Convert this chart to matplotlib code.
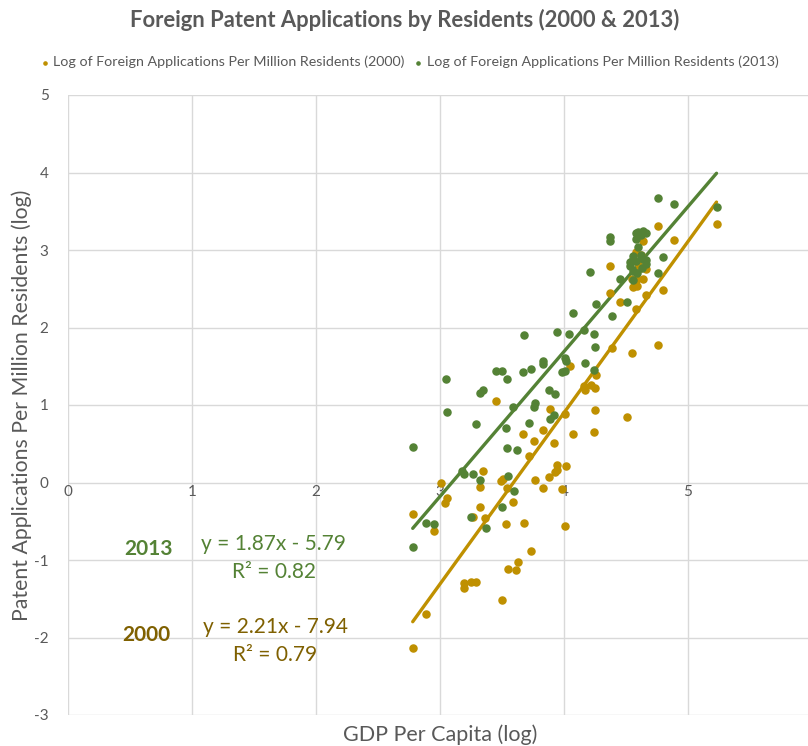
import matplotlib.pyplot as plt
import numpy as np

plt.rcParams['font.family'] = ['Lato', 'DejaVu Sans']
plt.rcParams['axes.unicode_minus'] = False

# Log GDP per capita / log foreign applications per million residents, 2013
x_2013 = [2.78, 2.78, 2.89, 2.95, 3.05, 3.06, 3.18, 3.19, 3.25, 3.27,
          3.29, 3.32, 3.35, 3.32, 3.37, 3.45, 3.50, 3.54, 3.59, 3.53,
          3.54, 3.62, 3.55, 3.60, 3.50, 3.67, 3.73, 3.83, 3.83, 4.01,
          4.02, 3.98, 4.01, 3.88, 3.93, 3.76, 3.77, 3.72, 3.89, 3.92,
          4.26, 4.51, 4.07, 4.39, 3.68, 3.94, 4.04, 4.16, 4.24, 4.25,
          4.17, 4.24, 4.76, 4.89, 4.37, 4.37, 4.58, 4.60, 4.64, 4.66,
          4.62, 4.58, 4.60, 4.56, 4.55, 4.58, 4.62, 4.64, 4.66, 4.80,
          4.53, 4.53, 4.66, 4.63, 4.21, 4.56, 4.59, 4.76, 4.45, 4.56,
          5.23]
y_2013 = [0.46, -0.83, -0.52, -0.54, 1.34, 0.91, 0.15, 0.11, -0.45, 0.11,
          0.75, 1.15, 1.19, 0.03, -0.59, 1.44, 1.44, 1.33, 0.98, 0.70,
          0.45, 0.42, 0.09, -0.11, -0.31, 1.42, 1.47, 1.57, 1.53, 1.61,
          1.57, 1.42, 1.44, 1.20, 1.14, 0.97, 1.02, 0.77, 0.82, 0.87,
          2.30, 2.33, 2.19, 2.15, 1.90, 1.94, 1.91, 1.97, 1.92, 1.75,
          1.54, 1.45, 3.67, 3.60, 3.17, 3.11, 3.22, 3.23, 3.24, 3.22,
          3.20, 3.14, 3.04, 2.92, 2.86, 2.86, 2.93, 2.88, 2.87, 2.91,
          2.85, 2.79, 2.82, 2.77, 2.71, 2.73, 2.70, 2.70, 2.62, 2.61,
          3.55]

# same for 2000
x_2000 = [2.78, 2.78, 2.89, 2.95, 3.01, 3.06, 3.04, 3.19, 3.19, 3.25,
          3.29, 3.27, 3.32, 3.32, 3.35, 3.36, 3.45, 3.49, 3.51, 3.54,
          3.59, 3.53, 3.50, 3.55, 3.61, 3.63, 3.73, 3.68, 4.01, 3.67,
          3.83, 3.76, 3.92, 4.07, 4.24, 3.72, 3.94, 3.94, 4.02, 3.88,
          3.93, 3.77, 3.83, 3.98, 4.05, 3.89, 4.01, 4.45, 4.58, 4.39,
          4.55, 4.26, 4.16, 4.17, 4.22, 4.25, 4.25, 4.51, 4.76, 4.89,
          4.64, 4.58, 4.62, 4.37, 4.60, 4.61, 4.66, 4.55, 4.59, 4.64,
          4.56, 4.59, 4.80, 4.37, 4.66, 4.76, 5.23]
y_2000 = [-0.40, -2.14, -1.70, -0.62, -0.01, -0.20, -0.27, -1.30, -1.36, -1.29,
          -1.29, -0.44, -0.32, -0.06, 0.15, -0.46, 1.05, 0.02, 0.04, -0.07,
          -0.25, -0.53, -1.51, -1.12, -1.13, -1.02, -0.89, -0.52, -0.56, 0.63,
          0.68, 0.53, 0.51, 0.63, 0.65, 0.34, 0.22, 0.16, 0.21, 0.07,
          0.13, 0.03, -0.07, -0.08, 1.50, 0.95, 0.89, 2.33, 2.24, 1.73,
          1.67, 1.39, 1.25, 1.20, 1.26, 1.22, 0.94, 0.84, 3.31, 3.13,
          3.11, 2.98, 2.94, 2.79, 2.83, 2.77, 2.75, 2.62, 2.62, 2.62,
          2.52, 2.54, 2.49, 2.44, 2.42, 1.78, 3.33]

# trend lines (slope, intercept, R²) as shown on the chart
fit_2013 = (1.87, -5.79, 0.82)
fit_2000 = (2.21, -7.94, 0.79)

gold = '#BF9000'
green = '#548235'
dark_gold = '#7F6000'
grey = '#595959'

fig = plt.figure(figsize=(8.08, 7.46), dpi=100)
ax = fig.add_axes([68 / 808, 1 - 715 / 746, 744 / 808, 620 / 746])

ax.scatter(x_2000, y_2000, s=26, color=gold, zorder=3,
           label='Log of Foreign Applications Per Million Residents (2000)')
ax.scatter(x_2013, y_2013, s=26, color=green, zorder=3,
           label='Log of Foreign Applications Per Million Residents (2013)')

for xs, (m, b, r2), c in [(x_2000, fit_2000, gold), (x_2013, fit_2013, green)]:
    xx = np.array([min(xs), max(xs)])
    ax.plot(xx, m * xx + b, color=c, lw=2.4, zorder=2,
            solid_capstyle='round')

ax.set_xlim(0, 6)
ax.set_ylim(-3, 5)
ax.set_xticks(range(0, 7))
ax.set_yticks(range(-3, 6))
ax.grid(True, color='#D9D9D9', lw=1)
ax.set_axisbelow(True)
for s in ax.spines.values():
    s.set_visible(False)
ax.spines['bottom'].set_position(('data', 0))
ax.tick_params(length=0, colors=grey, labelsize=11)
ax.tick_params(axis='x', pad=2)
ax.tick_params(axis='y', pad=14)

fig.text(440 / 808, 1 - 735 / 746, 'GDP Per Capita (log)',
         ha='center', va='center', fontsize=15.5, color=grey)
fig.text(22 / 808, 1 - 405 / 746, 'Patent Applications Per Million Residents (log)',
         ha='center', va='center', rotation=90, fontsize=15.3, color=grey)
fig.text(405 / 808, 1 - 20 / 746, 'Foreign Patent Applications by Residents (2000 & 2013)',
         ha='center', va='center', fontsize=15.8, fontweight='bold', color=grey)

fig.legend(loc='center', bbox_to_anchor=(410 / 808, 1 - 62 / 746), ncol=2,
           frameon=False, fontsize=10.3, labelcolor=grey, markerscale=0.45,
           handlelength=0.5, handletextpad=0.35, columnspacing=0.7)

m, b, r2 = fit_2013
ax.text(0.65, -0.86, '2013', color=green, fontsize=15, fontweight='bold',
        ha='center', va='center')
ax.text(1.66, -0.79, f'y = {m:.2f}x - {-b:.2f}', color=green, fontsize=15,
        ha='center', va='center')
ax.text(1.66, -1.16, f'R² = {r2:.2f}', color=green, fontsize=15,
        ha='center', va='center')
m, b, r2 = fit_2000
ax.text(0.63, -1.97, '2000', color=dark_gold, fontsize=15, fontweight='bold',
        ha='center', va='center')
ax.text(1.67, -1.87, f'y = {m:.2f}x - {-b:.2f}', color=dark_gold, fontsize=15,
        ha='center', va='center')
ax.text(1.67, -2.23, f'R² = {r2:.2f}', color=dark_gold, fontsize=15,
        ha='center', va='center')

fig.savefig('out.png', dpi=100)
